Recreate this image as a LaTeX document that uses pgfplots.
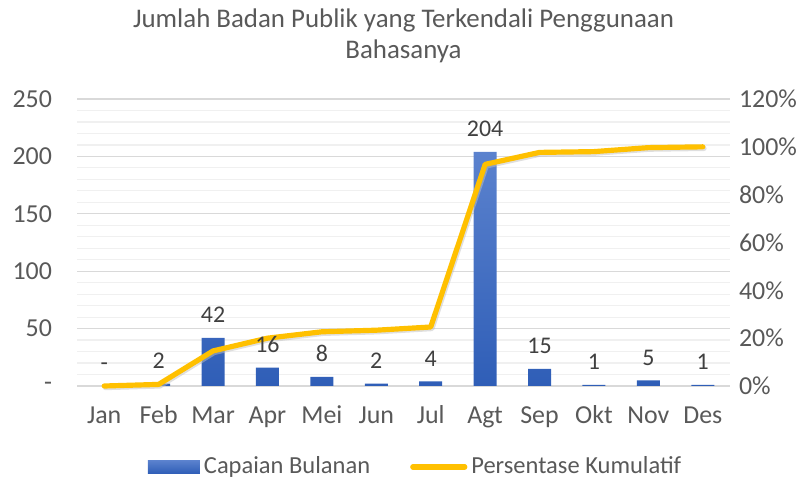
\documentclass[border=0pt]{standalone}
\usepackage{pgfplots}
\pgfplotsset{compat=1.18}
\usepackage{fontspec}
\setmainfont{Carlito}
\definecolor{txt}{HTML}{595959}
\definecolor{lbl}{HTML}{404040}
\definecolor{barTop}{HTML}{5B82CE}
\definecolor{barBot}{HTML}{2F5EB7}
\definecolor{lineY}{HTML}{FFC000}
\definecolor{gmaj}{HTML}{D9D9D9}
\definecolor{gmin}{HTML}{F0F0F0}
\begin{document}
\begin{tikzpicture}
\path[use as bounding box] (0,0) rectangle (405bp,242bp);
\begin{axis}[
  at={(38.5bp,49bp)}, anchor=south west,
  scale only axis, width=326.5bp, height=143.5bp,
  xmin=-0.5, xmax=11.5, ymin=0, ymax=250,
  xtick={0,...,11},
  xticklabels={Jan,Feb,Mar,Apr,Mei,Jun,Jul,Agt,Sep,Okt,Nov,Des},
  ytick={0,50,100,150,200,250},
  yticklabels={-,50,100,150,200,250},
  minor ytick={10,20,30,40,60,70,80,90,110,120,130,140,160,170,180,190,210,220,230,240},
  ymajorgrids, yminorgrids,
  major grid style={gmaj, line width=0.6pt},
  minor grid style={gmin, line width=0.6pt},
  axis line style={draw=none},
  axis x line*=bottom, axis y line*=left,
  tick style={draw=none},
  ticklabel style={font=\fontsize{13}{15}\selectfont, text=txt},
  /pgf/number format/assume math mode=true,
  yticklabel style={xshift=-9bp},
  xticklabel style={yshift=-6bp, text height=9bp, text depth=2.5bp},
  clip=false,
  title={Jumlah Badan Publik yang Terkendali Penggunaan\\Bahasanya},
  title style={at={(0.5,1.18)}, anchor=center, align=center, font=\fontsize{13.5}{15.5}\selectfont, text=txt},
]
\draw[gmaj, line width=0.8pt] (axis cs:-0.5,0) -- (axis cs:11.5,0);
\addplot[ybar, bar width=11.5bp, draw=none, top color=barTop, bottom color=barBot]
  coordinates {(0,0) (1,2) (2,42) (3,16) (4,8) (5,2) (6,4) (7,204) (8,15) (9,1) (10,5) (11,1)};
\end{axis}
\begin{axis}[
  at={(38.5bp,49bp)}, anchor=south west,
  scale only axis, width=326.5bp, height=143.5bp,
  xmin=-0.5, xmax=11.5, ymin=0, ymax=1.2,
  axis x line=none, axis y line*=right,
  axis line style={draw=none},
  tick style={draw=none},
  ytick={0,0.2,0.4,0.6,0.8,1.0,1.2},
  yticklabels={0\%,20\%,40\%,60\%,80\%,100\%,120\%},
  ticklabel style={font=\fontsize{13}{15}\selectfont, text=txt},
  yticklabel style={xshift=1bp},
  clip=false,
  legend style={at={(0.52,-0.282)}, anchor=center, draw=none, fill=none,
    legend columns=2, font=\fontsize{12.3}{14}\selectfont, text=txt,
    /tikz/every even column/.append style={column sep=18bp}},
  legend cell align=left,
]
\addlegendimage{legend image code/.code={\shade[draw=none, top color=barTop, bottom color=barBot] (0bp,-3.3bp) rectangle (26bp,3.3bp);}}
\addlegendentry{Capaian Bulanan}
\addplot[draw=black!25, opacity=0.5, line width=2.6pt, line join=round, line cap=round, forget plot, shift={(0.6bp,-0.8bp)}]
  coordinates {(0,0) (1,0.0067) (2,0.1467) (3,0.20) (4,0.2267) (5,0.2333) (6,0.2467) (7,0.9267) (8,0.9767) (9,0.98) (10,0.9967) (11,1.0)};
\addplot[lineY, line width=2.6pt, line join=round, line cap=round,
  legend image code/.code={\draw[lineY, line width=2.6pt, line cap=round] (0bp,0bp) -- (26bp,0bp);}]
  coordinates {(0,0) (1,0.0067) (2,0.1467) (3,0.20) (4,0.2267) (5,0.2333) (6,0.2467) (7,0.9267) (8,0.9767) (9,0.98) (10,0.9967) (11,1.0)};
\addlegendentry{Persentase Kumulatif}
\end{axis}
\begin{axis}[
  at={(38.5bp,49bp)}, anchor=south west,
  scale only axis, width=326.5bp, height=143.5bp,
  xmin=-0.5, xmax=11.5, ymin=0, ymax=250,
  axis lines=none, clip=false,
  nodes near coords={\pgfplotspointmeta},
  point meta=explicit symbolic,
  nodes near coords style={font=\fontsize{12}{14}\selectfont, text=lbl, anchor=south, yshift=4bp},
]
\addplot[draw=none, mark=none, only marks, mark size=0]
  coordinates {(0,0)[-] (1,2)[2] (2,42)[42] (3,16)[16] (4,8)[8] (5,2)[2] (6,4)[4] (7,204)[204] (8,15)[15] (9,1)[1] (10,5)[5] (11,1)[1]};
\end{axis}
\end{tikzpicture}
\end{document}
